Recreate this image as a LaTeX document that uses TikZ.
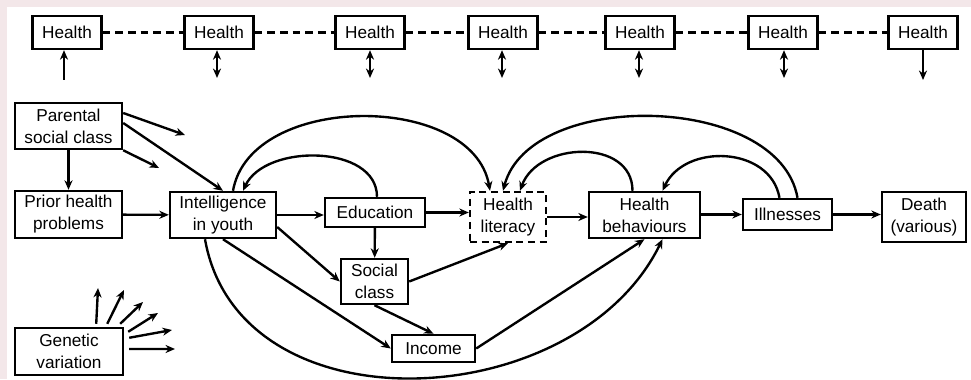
\documentclass[tikz,border=0pt]{standalone}
\usepackage{fontspec}
\setmainfont{Liberation Sans}
\usetikzlibrary{arrows.meta}
\definecolor{framepink}{RGB}{243,231,233}
\tikzstyle{box} = [rectangle, draw=black, line width=1.4pt, align=center, inner sep=0pt, font=\fontsize{9.8}{12.5}\selectfont]
\tikzstyle{healthbox} = [box, minimum width=1.38cm, minimum height=0.66cm]
\tikzstyle{link} = [-{Stealth[length=5.4pt,width=4.6pt]}, line width=1.35pt]
\tikzstyle{twoway} = [{Stealth[length=5.4pt,width=4.6pt]}-{Stealth[length=5.4pt,width=4.6pt]}, line width=1.35pt]
\tikzstyle{series} = [dash pattern=on 4.4pt off 2.8pt, line width=1.35pt]

\begin{document}
\begin{tikzpicture}[x=0.02cm, y=0.02cm]
\fill[framepink] (0,0) rectangle (971,379);
\fill[white] (7,0) rectangle (971,372);
\useasboundingbox (0,0) rectangle (971,379);

% health over the life course
\node (h1) [healthbox] at (67,346.5) {Health};
\node (h2) [healthbox] at (219,346.5) {Health};
\node (h3) [healthbox] at (370,346.5) {Health};
\node (h4) [healthbox] at (503,346.5) {Health};
\node (h5) [healthbox] at (640,346.5) {Health};
\node (h6) [healthbox] at (783,346.5) {Health};
\node (h7) [healthbox] at (923,346.5) {Health};
\draw[series] (h1) -- (h2);
\draw[series] (h2) -- (h3);
\draw[series] (h3) -- (h4);
\draw[series] (h4) -- (h5);
\draw[series] (h5) -- (h6);
\draw[series] (h6) -- (h7);

\coordinate (u1) at (64,299);
\coordinate (u2) at (217,301);
\coordinate (u3) at (370,301);
\coordinate (u4) at (502,301);
\coordinate (u5) at (639,301);
\coordinate (u6) at (784,301);
\coordinate (u7) at (923,299);
\draw[link] (u1) -- (u1 |- h1.south);
\draw[twoway] (u2 |- h2.south) -- (u2);
\draw[twoway] (u3 |- h3.south) -- (u3);
\draw[twoway] (u4 |- h4.south) -- (u4);
\draw[twoway] (u5 |- h5.south) -- (u5);
\draw[twoway] (u6 |- h6.south) -- (u6);
\draw[link] (u7 |- h7.south) -- (u7);

% main pathway
\node (par) [box, minimum width=2.14cm, minimum height=0.92cm] at (68.5,253) {Parental\\social class};
\node (prior) [box, minimum width=2.14cm, minimum height=0.94cm] at (68.5,164.5) {Prior health\\problems};
\node (intel) [box, minimum width=2.12cm, minimum height=0.92cm] at (223,164) {Intelligence\\in youth};
\node (edu) [box, minimum width=2.0cm, minimum height=0.58cm] at (375,166.5) {Education};
\node (hlit) [box, dash pattern=on 4pt off 2.6pt, minimum width=1.52cm, minimum height=1.0cm] at (508,162) {Health\\literacy};
\node (hbeh) [box, minimum width=2.22cm, minimum height=0.92cm] at (644.5,164) {Health\\behaviours};
\node (ill) [box, minimum width=1.78cm, minimum height=0.62cm] at (787.5,164.5) {Illnesses};
\node (death) [box, minimum width=1.68cm, minimum height=1.0cm] at (924,162) {Death\\(various)};
\node (soc) [box, minimum width=1.34cm, minimum height=0.9cm] at (374.5,97.5) {Social\\class};
\node (inc) [box, minimum width=1.66cm, minimum height=0.54cm] at (433.5,30.5) {Income};
\node (gen) [box, minimum width=2.16cm, minimum height=0.94cm] at (69,27.5) {Genetic\\variation};

\coordinate (p1) at (185,244);
\coordinate (p3) at (159,211);
\draw[link] ([shift={(0,13)}]par.east) -- (p1);
\draw[link] ([shift={(0,3)}]par.east) -- (intel.north);
\draw[link] (par.south east) -- (p3);
\draw[link] (par) -- (prior);

\draw[link] (prior) -- (intel);
\draw[link] (intel.east) -- (intel.east -| edu.west);
\draw[link] (edu) -- (edu.east -| hlit.west);
\draw[link] (hlit.east) -- (hlit.east -| hbeh.west);
\draw[link] (ill.west -| hbeh.east) -- (ill.west);
\draw[link] (ill) -- (ill.east -| death.west);
\draw[link] (edu) -- (soc);
\draw[link] (soc.east) -- (hlit.south);
\draw[link] (soc.south) -- (inc.north);
\draw[link] (inc.east) -- (hbeh.south);
\draw[link] ([shift={(0,-12)}]intel.east) -- (soc.west);
\draw[link] (intel.south) -- (inc.west);
\draw[link] ([shift={(-18,0)}]intel.south) to[out=-80, in=-116, looseness=1.1] ([shift={(18,0)}]hbeh.south);

% feedback arcs
\draw[link] ([shift={(2,0)}]edu.north) to[out=90, in=65] ([shift={(20,0)}]intel.north);
\draw[link] ([shift={(10,0)}]intel.north) to[out=80, in=100] ([shift={(-18,0)}]hlit.north);
\draw[link] ([shift={(-12,0)}]hbeh.north) to[out=90, in=70, looseness=1.2] ([shift={(12,0)}]hlit.north);
\draw[link] ([shift={(-8,0)}]ill.north) to[out=100, in=65, looseness=1.15] ([shift={(18,0)}]hbeh.north);
\draw[link] ([shift={(10,0)}]ill.north) to[out=100, in=75, looseness=0.92] ([shift={(-5,0)}]hlit.north);

% genetic influences
\coordinate (g1) at (98,91);
\coordinate (g2) at (124,89);
\coordinate (g3) at (143,77);
\coordinate (g4) at (158,66);
\coordinate (g5) at (172,49);
\coordinate (g6) at (175,30);
\draw[link] ([shift={(-28,3)}]gen.north east) -- (g1);
\draw[link] ([shift={(-17,3)}]gen.north east) -- (g2);
\draw[link] ([shift={(-4,3)}]gen.north east) -- (g3);
\draw[link] ([shift={(4,-5)}]gen.north east) -- (g4);
\draw[link] ([shift={(5,-11)}]gen.north east) -- (g5);
\draw[link] ([shift={(5,2.5)}]gen.east) -- (g6);
\end{tikzpicture}
\end{document}
